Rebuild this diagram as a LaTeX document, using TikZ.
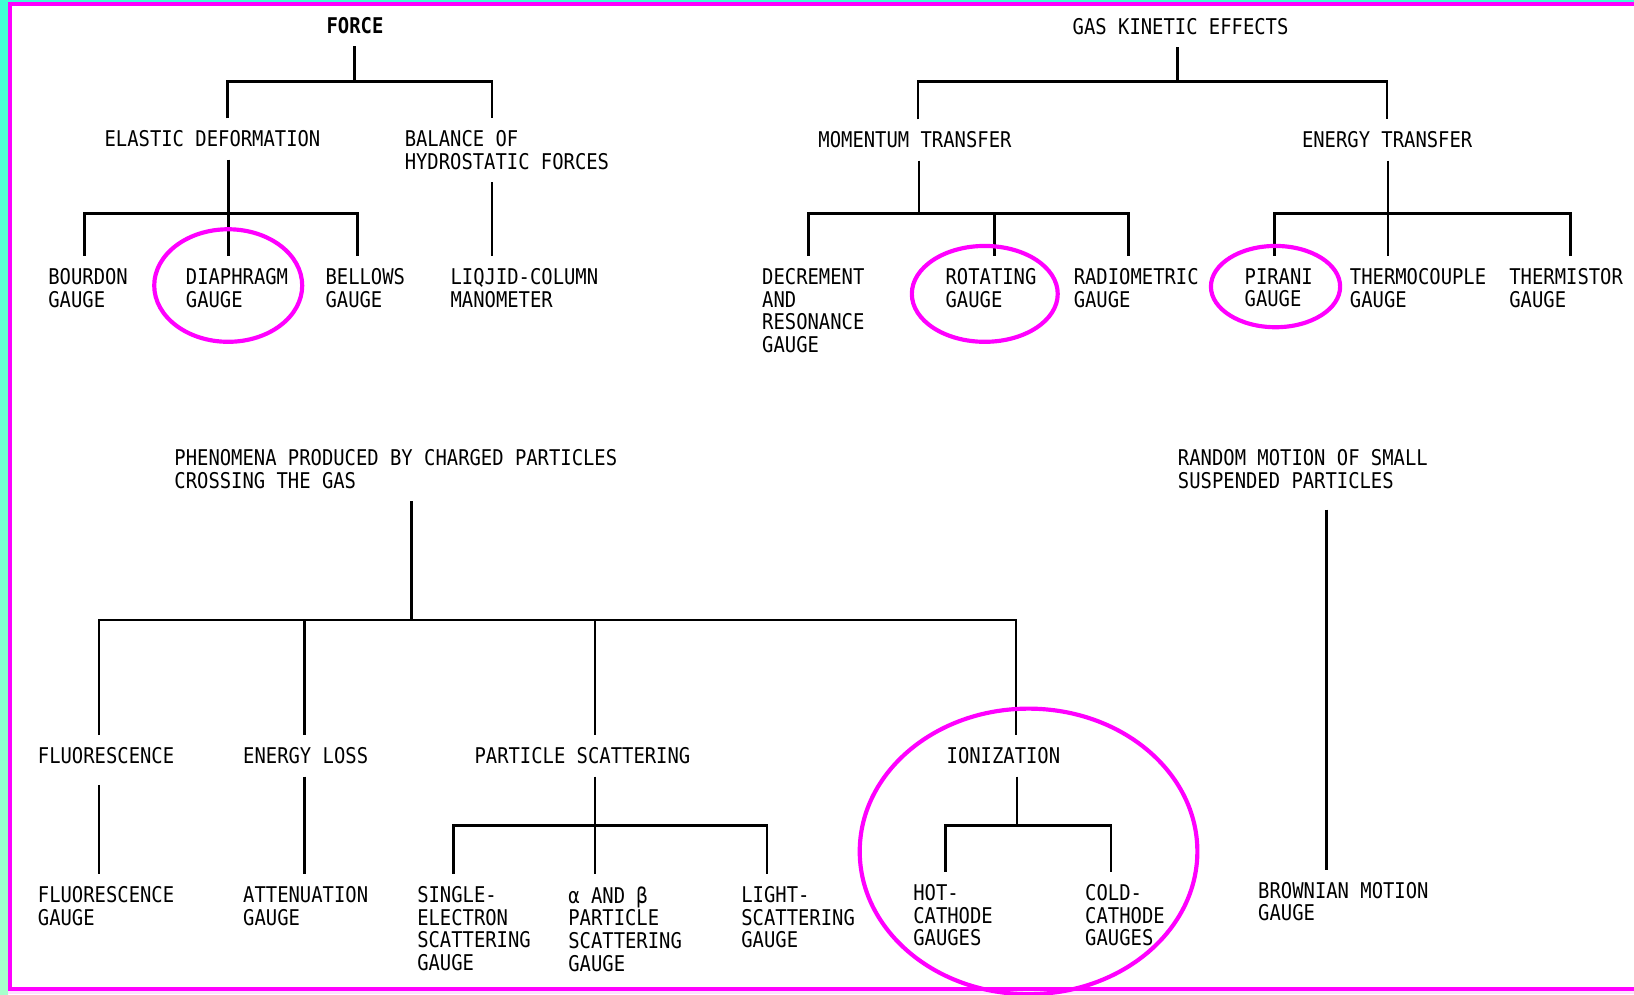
\documentclass[tikz,border=0pt]{standalone}
\usepackage{fontspec}
\setmonofont{DejaVu Sans Mono}[FakeStretch=0.87]
\usepackage{tikz}
\usepackage{xcolor}
\definecolor{ring-magenta}{HTML}{FF00FF}
\definecolor{edge-cyan}{HTML}{40FFD4}
\definecolor{edge-mint}{HTML}{A8FFCC}
\definecolor{edge-pink}{HTML}{FFE0FF}
\tikzset{
    tree-label/.style = {anchor=north west, inner sep=0pt, outer ysep=6pt, align=left, font=\ttfamily\fontsize{10.4}{10.9}\selectfont},
    tree-head/.style = {tree-label, font=\ttfamily\bfseries\fontsize{10.4}{10.9}\selectfont},
    tree-line/.style = {draw=black, line width=1.3pt},
    gauge-ring/.style = {draw=ring-magenta, line width=2pt},
}

\begin{document}
\begin{tikzpicture}[x=0.5pt, y=-0.5pt]
\useasboundingbox (0,0) rectangle (1568,954);
% frame
\fill[white] (0,0) rectangle (1568,954);
\fill[edge-cyan] (0,0) rectangle (1568,1.9);
\shade[top color=edge-cyan, bottom color=edge-mint] (0,0) rectangle (7.7,954);
\fill[ring-magenta] (7.7,1.9) rectangle (1568,5.8);
\fill[ring-magenta] (7.7,1.9) rectangle (11.5,951);
\fill[ring-magenta] (7.7,947) rectangle (1568,951);
\fill[edge-pink] (7.7,951) rectangle (1568,954);

% force
\node[tree-head] (force) at (313,4.5) {FORCE};
\node[tree-label] (elastic) at (100,113.5) {ELASTIC DEFORMATION};
\node[tree-label] (balance) at (388,113.5) {BALANCE OF\\HYDROSTATIC FORCES};
\node[tree-label] (bourdon) at (46,245.5) {BOURDON\\GAUGE};
\node[tree-label] (diaphragm) at (178,245.5) {DIAPHRAGM\\GAUGE};
\node[tree-label] (bellows) at (312,245.5) {BELLOWS\\GAUGE};
\node[tree-label] (liquid) at (432,245.5) {LIQJID-COLUMN\\MANOMETER};

\coordinate (f0) at (340,78);
\coordinate (f1) at (218,78);
\coordinate (f2) at (472,78);
\draw[tree-line] (force.south -| f0) -- (f0);
\draw[tree-line] (f1 |- elastic.north) -- (f1) -- (f2) -- (f2 |- balance.north);
\draw[tree-line] (balance.south -| f2) -- (f2 |- liquid.north);

\coordinate (e0) at (219,205);
\coordinate (e1) at (81,205);
\coordinate (e3) at (343,205);
\draw[tree-line] (elastic.south -| e0) -- (e0 |- diaphragm.north);
\draw[tree-line] (e1 |- bourdon.north) -- (e1) -- (e3) -- (e3 |- bellows.north);

% gas kinetic effects
\node[tree-label] (gas) at (1029,5.5) {GAS KINETIC EFFECTS};
\node[tree-label] (momentum) at (785,114.5) {MOMENTUM TRANSFER};
\node[tree-label] (energy) at (1249,114.5) {ENERGY TRANSFER};
\node[tree-label] (decrement) at (731,245.5) {DECREMENT\\AND\\RESONANCE\\GAUGE};
\node[tree-label] (rotating) at (907,245.5) {ROTATING\\GAUGE};
\node[tree-label] (radiometric) at (1030,245.5) {RADIOMETRIC\\GAUGE};
\node[tree-label] (pirani) at (1194,245.5) {PIRANI\\GAUGE};
\node[tree-label] (thermocouple) at (1295,245.5) {THERMOCOUPLE\\GAUGE};
\node[tree-label] (thermistor) at (1448,245.5) {THERMISTOR\\GAUGE};

\coordinate (g0) at (1130,78);
\coordinate (g1) at (881,78);
\coordinate (g2) at (1331,78);
\draw[tree-line] (gas.south -| g0) -- (g0);
\draw[tree-line] (g1 |- momentum.north) -- (g1) -- (g2) -- (g2 |- energy.north);

\coordinate (m0) at (882,205);
\coordinate (m1) at (776,205);
\coordinate (m2) at (954,205);
\coordinate (m3) at (1083,205);
\draw[tree-line] (momentum.south -| m0) -- (m0);
\draw[tree-line] (m1 |- decrement.north) -- (m1) -- (m3) -- (m3 |- radiometric.north);
\draw[tree-line] (m2) -- (m2 |- rotating.north);

\coordinate (n0) at (1332,205);
\coordinate (n1) at (1223,205);
\coordinate (n3) at (1507,205);
\draw[tree-line] (energy.south -| n0) -- (n0 |- thermocouple.north);
\draw[tree-line] (n1 |- pirani.north) -- (n1) -- (n3) -- (n3 |- thermistor.north);

% charged particles
\node[tree-label] (phenomena) at (167,419.5) {PHENOMENA PRODUCED BY CHARGED PARTICLES\\CROSSING THE GAS};
\node[tree-label] (fluor) at (36,705.5) {FLUORESCENCE};
\node[tree-label] (eloss) at (233,705.5) {ENERGY LOSS};
\node[tree-label] (scatter) at (455,705.5) {PARTICLE SCATTERING};
\node[tree-label] (ionization) at (908,705.5) {IONIZATION};
\node[tree-label] (fluorgauge) at (36,838.5) {FLUORESCENCE\\GAUGE};
\node[tree-label] (attenuation) at (233,838.5) {ATTENUATION\\GAUGE};
\node[tree-label] (single) at (400,838.5) {SINGLE-\\ELECTRON\\SCATTERING\\GAUGE};
\node[tree-label] (alphabeta) at (545,838.5) {α AND β\\PARTICLE\\SCATTERING\\GAUGE};
\node[tree-label] (light) at (711,838.5) {LIGHT-\\SCATTERING\\GAUGE};
\node[tree-label] (hot) at (876,836.5) {HOT-\\CATHODE\\GAUGES};
\node[tree-label] (cold) at (1041,836.5) {COLD-\\CATHODE\\GAUGES};

\coordinate (p0) at (395,595);
\coordinate (p1) at (95,595);
\coordinate (p2) at (292,595);
\coordinate (p3) at (571,595);
\coordinate (p4) at (975,595);
\draw[tree-line] (phenomena.south -| p0) -- (p0);
\draw[tree-line] (p1 |- fluor.north) -- (p1) -- (p4) -- (p4 |- ionization.north);
\draw[tree-line] (p2) -- (p2 |- eloss.north);
\draw[tree-line] (p3) -- (p3 |- scatter.north);
\draw[tree-line] (fluor.south -| p1) ++(0,8) -- (p1 |- fluorgauge.north);
\draw[tree-line] (eloss.south -| p2) -- (p2 |- attenuation.north);

\coordinate (s0) at (571,792);
\coordinate (s1) at (435,792);
\coordinate (s3) at (736,792);
\draw[tree-line] (scatter.south -| s0) -- (s0 |- alphabeta.north);
\draw[tree-line] (s1 |- single.north) -- (s1) -- (s3) -- (s3 |- light.north);

\coordinate (i0) at (976,792);
\coordinate (i1) at (907,792);
\coordinate (i2) at (1066,792);
\draw[tree-line] (ionization.south -| i0) -- (i0);
\draw[tree-line] (i1 |- hot.north) -- (i1) -- (i2) -- (i2 |- cold.north);

% brownian motion
\node[tree-label] (random) at (1130,419.5) {RANDOM MOTION OF SMALL\\SUSPENDED PARTICLES};
\node[tree-label] (brownian) at (1207,834.5) {BROWNIAN MOTION\\GAUGE};
\coordinate (r0) at (1273,600);
\draw[tree-line] (r0 |- random.south) ++(0,8) -- (r0 |- brownian.north);

% highlighted gauges
\draw[gauge-ring] (219,274) ellipse [x radius=71, y radius=54];
\draw[gauge-ring] (945,282) ellipse [x radius=70, y radius=46];
\draw[gauge-ring] (1224,275) ellipse [x radius=62, y radius=39];
\draw[gauge-ring] (987,817) ellipse [x radius=162, y radius=137];
\end{tikzpicture}
\end{document}
